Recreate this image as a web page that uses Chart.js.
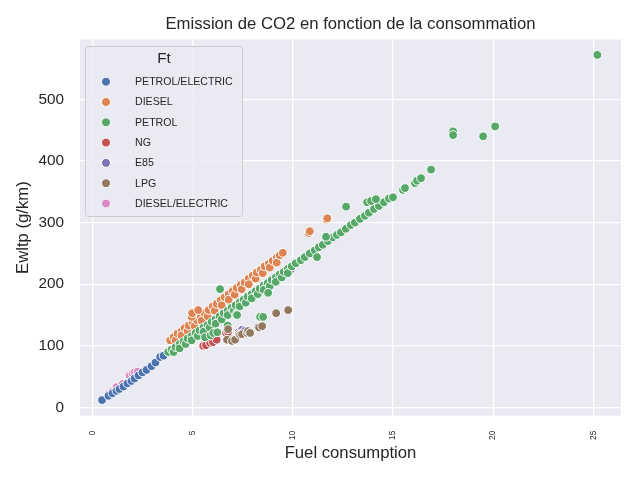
<!DOCTYPE html>
<html>
<head>
<meta charset="utf-8">
<script src="https://cdn.jsdelivr.net/npm/chart.js@4"></script>
<style>
  body { margin: 0; background: #ffffff; }
</style>
</head>
<body>
<canvas id="scatterChart" width="640" height="480"></canvas>
<script>
// emission de CO2 / consommation, nuage de points par carburant

const fuelTypes = ['PETROL/ELECTRIC', 'DIESEL', 'PETROL', 'NG', 'E85', 'LPG', 'DIESEL/ELECTRIC'];
const fuelColors = ['#4C72B0', '#DD8452', '#55A868', '#C44E52', '#8172B3', '#937860', '#DA8BC3'];
const xTicks = [0, 5, 10, 15, 20, 25];
const yTicks = [0, 100, 200, 300, 400, 500];

const petrolElecX = [0.48, 0.8, 1.0, 1.2, 1.35, 1.55, 1.75, 1.95, 2.1, 2.3, 2.5, 2.7, 2.95, 3.15, 3.38, 3.55];
const petrolElecY = [12, 19, 23, 27, 30, 34, 39, 43, 47, 52, 57, 61, 67, 73, 82, 84];

const dieselX = [3.88, 4.05, 4.15, 4.25, 4.45, 4.45, 4.6, 4.75, 4.8, 5.0, 5.1, 5.2, 5.4, 5.45, 5.6, 5.75, 5.8, 6.0, 6.1, 6.2, 6.4, 6.45, 6.6, 6.8, 6.8, 7.0, 7.1, 7.2, 7.4, 7.45, 7.6, 7.8, 7.8, 8.0, 8.15, 8.2, 8.4, 8.5, 8.6, 8.8, 8.85, 9.0, 9.2, 9.2, 9.35, 9.5,
  4.95, 4.98, 5.28, 10.8, 10.85, 11.68, 11.72];
const dieselY = [109, 114, 109, 120, 124, 117, 129, 124, 133, 138, 132, 142, 148, 141, 153, 148, 158, 164, 157, 168, 174, 166, 179, 184, 175, 189, 183, 194, 199, 192, 203, 209, 200, 214, 209, 219, 223, 218, 229, 233, 227, 238, 243, 235, 247, 251,
  147, 153, 158, 283, 286, 305, 307];

const petrolX = [3.78, 3.95, 4.05, 4.15, 4.35, 4.35, 4.55, 4.65, 4.75, 4.95, 4.95, 5.15, 5.25, 5.35, 5.55, 5.55, 5.75, 5.85, 5.95, 6.15, 6.15, 6.35, 6.45, 6.55, 6.75, 6.75, 6.95, 7.05, 7.15, 7.35, 7.35, 7.55, 7.65, 7.75, 7.95, 7.95, 8.15, 8.25, 8.35, 8.55, 8.55, 8.75, 8.85, 8.95, 9.15, 9.15, 9.35, 9.45, 9.55, 9.75, 9.75, 9.95,
  10.15, 10.4, 10.6, 10.85, 11.1, 11.3, 11.5, 11.75, 12.0, 12.2, 12.4, 12.65, 12.9, 13.1, 13.35, 13.6, 13.8, 14.05, 14.3, 14.55, 14.8, 15.0, 15.5, 15.6, 16.1, 16.2, 16.4, 16.9,
  5.62, 5.9, 6.03, 6.23, 6.75, 7.17, 7.22, 8.37, 8.52, 8.77, 6.37, 11.21, 11.66, 12.66, 13.71, 13.9, 14.15, 18.0, 18.0, 19.5, 20.1, 25.2];
const petrolY = [90, 94, 90, 98, 103, 96, 107, 103, 112, 116, 109, 121, 116, 125, 130, 123, 134, 130, 139, 143, 136, 148, 143, 153, 157, 150, 162, 157, 166, 171, 164, 175, 170, 180, 184, 177, 189, 184, 193, 198, 191, 202, 197, 207, 211, 204, 216, 211, 220, 225, 218, 229,
  234, 239, 244, 250, 255, 260, 264, 270, 276, 280, 284, 290, 296, 300, 306, 311, 316, 322, 327, 333, 339, 341, 353, 356, 364, 368, 372, 386,
  114, 117, 121, 122, 133, 151, 150, 147, 147, 186, 192, 244, 277, 326, 333, 335, 338, 448, 442, 440, 456, 572];

const ngX = [5.53, 5.67, 5.87, 6.02, 6.2, 6.67, 6.77];
const ngY = [100, 101, 105, 106, 110, 121, 122];

const e85X = [7.3, 7.47, 7.6, 9.7, 9.77, 9.9];
const e85Y = [122, 126, 124, 220, 221, 224];

const lpgX = [6.72, 6.77, 6.97, 7.12, 7.32, 7.37, 7.47, 7.72, 7.77, 7.87, 8.27, 8.32, 8.47, 9.17, 9.77];
const lpgY = [110, 127, 108, 110, 119, 118, 119, 121, 124, 121, 130, 130, 132, 153, 158];

const dieselElecX = [0.8, 1.0, 1.2, 1.5, 1.85, 2.0, 2.1, 2.25];
const dieselElecY = [22, 26, 33, 38, 52, 55, 57, 58];

const seriesX = [petrolElecX, dieselX, petrolX, ngX, e85X, lpgX, dieselElecX];
const seriesY = [petrolElecY, dieselY, petrolY, ngY, e85Y, lpgY, dieselElecY];
// ordre de dessin (0 = au-dessus)
const drawOrder = [2, 3, 1, 4, 5, 0, 6];

const textColor = '#262626';
Chart.defaults.font.family = '"Liberation Sans", Arial, sans-serif';
Chart.defaults.color = textColor;

const datasets = fuelTypes.map((name, i) => ({
  label: name,
  data: seriesX[i].map((x, j) => ({ x: x, y: seriesY[i][j] })),
  backgroundColor: fuelColors[i],
  borderColor: '#ffffff',
  borderWidth: 1,
  pointRadius: 4.4,
  pointHoverRadius: 4.4,
  order: drawOrder[i]
}));

// fond gris du graphique
const plotBackground = {
  id: 'plotBackground',
  beforeDraw(chart) {
    const { ctx, chartArea: a } = chart;
    ctx.save();
    ctx.fillStyle = '#EAEAF2';
    ctx.fillRect(a.left, a.top, a.right - a.left, a.bottom - a.top);
    ctx.restore();
  }
};

// légende façon seaborn, dans le coin haut gauche
const ftLegend = {
  id: 'ftLegend',
  afterDatasetsDraw(chart) {
    const ctx = chart.ctx;
    ctx.save();
    ctx.beginPath();
    ctx.roundRect(85.5, 46.5, 157, 170, 3);
    ctx.fillStyle = 'rgba(234,234,242,0.8)';
    ctx.fill();
    ctx.strokeStyle = '#cccccc';
    ctx.lineWidth = 1;
    ctx.stroke();

    ctx.fillStyle = textColor;
    ctx.textBaseline = 'middle';
    ctx.textAlign = 'center';
    ctx.font = '15.3px "Liberation Sans", Arial, sans-serif';
    ctx.fillText('Ft', 164, 59);

    ctx.textAlign = 'left';
    ctx.font = '10.6px "Liberation Sans", Arial, sans-serif';
    fuelTypes.forEach((name, i) => {
      const y = 81.7 + i * 20.3;
      ctx.beginPath();
      ctx.arc(106, y, 4.5, 0, Math.PI * 2);
      ctx.fillStyle = fuelColors[i];
      ctx.fill();
      ctx.strokeStyle = '#ffffff';
      ctx.lineWidth = 1;
      ctx.stroke();
      ctx.fillStyle = textColor;
      ctx.fillText(name, 135, y + 0.5);
    });
    ctx.restore();
  }
};

const chartEl = document.getElementById('scatterChart');
const scatterChart = new Chart(chartEl, {
  type: 'scatter',
  data: { datasets: datasets },
  plugins: [plotBackground, ftLegend],
  options: {
    responsive: false,
    animation: false,
    devicePixelRatio: 1,
    layout: {
      padding: { left: 0, right: 19, top: 0, bottom: 0 }
    },
    scales: {
      x: {
        type: 'linear',
        min: -0.62,
        max: 26.38,
        afterFit: (s) => { s.height = 64.3; },
        afterBuildTicks: (s) => { s.ticks = xTicks.map(v => ({ value: v })); },
        border: { display: false },
        grid: { color: '#ffffff', lineWidth: 1.3, drawTicks: false },
        ticks: {
          minRotation: 90,
          maxRotation: 90,
          padding: 15,
          font: { size: 8.3 },
          color: textColor
        },
        title: {
          display: true,
          text: 'Fuel consumption',
          font: { size: 16.7 },
          color: textColor,
          padding: { top: 0, bottom: 17 }
        }
      },
      y: {
        type: 'linear',
        min: -13.3,
        max: 597,
        afterFit: (s) => { s.width = 80; },
        afterBuildTicks: (s) => { s.ticks = yTicks.map(v => ({ value: v })); },
        border: { display: false },
        grid: { color: '#ffffff', lineWidth: 1.3, drawTicks: false },
        ticks: {
          padding: 16,
          font: { size: 15.3 },
          color: textColor
        },
        title: {
          display: true,
          text: 'Ewltp (g/km)',
          font: { size: 16.7 },
          color: textColor,
          padding: { top: 13, bottom: 0 }
        }
      }
    },
    plugins: {
      legend: { display: false },
      tooltip: { enabled: false },
      title: {
        display: true,
        fullSize: false,
        text: 'Emission de CO2 en fonction de la consommation',
        font: { size: 16.7, weight: 'normal' },
        color: textColor,
        padding: { top: 14, bottom: 5.5 }
      }
    }
  }
});
</script>
</body>
</html>
